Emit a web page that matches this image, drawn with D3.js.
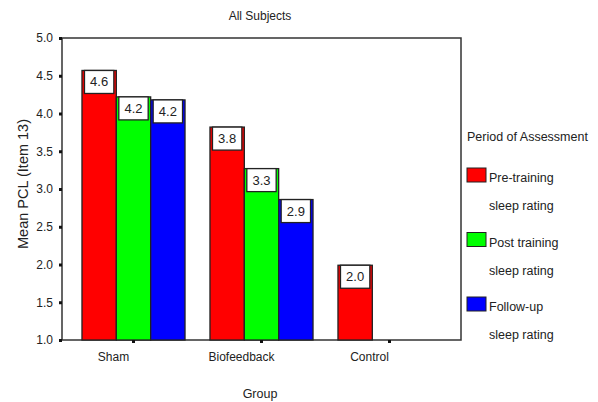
<html lang="en">
<head>
    <meta charset="UTF-8">
    <title>All Subjects</title>
    <script src="https://d3js.org/d3.v7.min.js"></script>
    <style>
        body { margin: 0; background: #fff; }
        svg { font-family: "Liberation Sans", Arial, sans-serif; }
        text { fill: #222; }
    </style>
</head>
<body>
    <script>
        // chart data
        const groups = ['Sham', 'Biofeedback', 'Control'];
        const periods = ['Pre-training', 'Post training', 'Follow-up'];
        const pre = [4.57, 3.82, 1.99];
        const post = [4.22, 3.27, null];
        const follow = [4.18, 2.86, null];
        const yTicks = [1.0, 1.5, 2.0, 2.5, 3.0, 3.5, 4.0, 4.5, 5.0];
        const colors = ['#ff0000', '#00ff00', '#0000ff'];

        const w = 598, h = 402;
        const padL = 62, padR = 461, padT = 38, padB = 340;

        const series = [pre, post, follow];
        const rows = [];
        groups.forEach((g, gi) => {
            periods.forEach((p, pi) => {
                if (series[pi][gi] != null) rows.push({group: g, period: p, value: series[pi][gi], i: pi});
            });
        });

        const svg = d3.select('body').append('svg')
            .attr('width', w)
            .attr('height', h);

        const x0 = d3.scaleBand()
            .domain(groups)
            .range([69.5, 453.5])
            .paddingInner(0.195)
            .paddingOuter(0.0975);
        const x1 = d3.scaleBand()
            .domain(periods)
            .range([0, x0.bandwidth()]);
        const y = d3.scaleLinear()
            .domain([1, 5])
            .range([padB, padT]);

        // frame
        svg.append('rect')
            .attr('x', padL).attr('y', padT)
            .attr('width', padR - padL).attr('height', padB - padT)
            .attr('fill', 'none')
            .attr('stroke', '#333')
            .attr('stroke-width', 1.5);

        // bars
        const bar = svg.append('g').selectAll('g')
            .data(rows)
            .enter()
            .append('g');

        bar.append('rect')
            .attr('x', d => x0(d.group) + x1(d.period))
            .attr('y', d => y(d.value))
            .attr('width', x1.bandwidth())
            .attr('height', d => y(1) - y(d.value))
            .attr('fill', d => colors[d.i])
            .attr('stroke', '#222')
            .attr('stroke-width', 1.3);

        bar.append('rect')
            .attr('x', d => x0(d.group) + x1(d.period) + 2.5)
            .attr('y', d => y(d.value))
            .attr('width', x1.bandwidth() - 5)
            .attr('height', 23)
            .attr('fill', '#fff')
            .attr('stroke', '#222')
            .attr('stroke-width', 1.3);

        bar.append('text')
            .attr('x', d => x0(d.group) + x1(d.period) + x1.bandwidth() / 2)
            .attr('y', d => y(d.value) + 16)
            .attr('text-anchor', 'middle')
            .style('font-size', '13px')
            .text(d => d.value.toFixed(1));

        // axes
        const yAxis = d3.axisLeft(y)
            .tickValues(yTicks)
            .tickSize(3)
            .tickPadding(6)
            .tickFormat(d3.format('.1f'));
        const gy = svg.append('g')
            .attr('transform', 'translate(' + padL + ',0)')
            .call(yAxis);
        gy.select('.domain').remove();
        gy.selectAll('line').attr('stroke', '#111').attr('stroke-width', 3);
        gy.selectAll('text').style('font-size', '12px').attr('fill', '#222');

        const xAxis = d3.axisBottom(x0)
            .tickSize(3)
            .tickPadding(9);
        const gx = svg.append('g')
            .attr('transform', 'translate(0,' + padB + ')')
            .call(xAxis);
        gx.select('.domain').remove();
        gx.selectAll('line').attr('stroke', '#111').attr('stroke-width', 3);
        gx.selectAll('text').style('font-size', '12px').attr('fill', '#222').attr('dx', -20);

        // titles
        svg.append('text')
            .attr('x', 260).attr('y', 20)
            .attr('text-anchor', 'middle')
            .style('font-size', '12px')
            .text('All Subjects');

        svg.append('text')
            .attr('x', 260).attr('y', 398)
            .attr('text-anchor', 'middle')
            .style('font-size', '12.5px')
            .text('Group');

        svg.append('text')
            .attr('transform', 'translate(28,184) rotate(-90)')
            .attr('text-anchor', 'middle')
            .style('font-size', '14.5px')
            .text('Mean PCL (Item 13)');

        // legend
        const legend = svg.append('g');
        legend.append('text')
            .attr('x', 467).attr('y', 141)
            .style('font-size', '12.5px')
            .text('Period of Assessment');

        const items = legend.selectAll('.item')
            .data(periods)
            .enter()
            .append('g')
            .attr('class', 'item')
            .attr('transform', (d, i) => 'translate(467,' + (168 + i * 64.5) + ')');

        items.append('rect')
            .attr('width', 19).attr('height', 14)
            .attr('fill', (d, i) => colors[i])
            .attr('stroke', '#222')
            .attr('stroke-width', 1);

        items.append('text')
            .attr('x', 22).attr('y', 14)
            .style('font-size', '12.5px')
            .text(d => d);

        items.append('text')
            .attr('x', 22).attr('y', 42)
            .style('font-size', '12.5px')
            .text('sleep rating');
    </script>
</body>
</html>
